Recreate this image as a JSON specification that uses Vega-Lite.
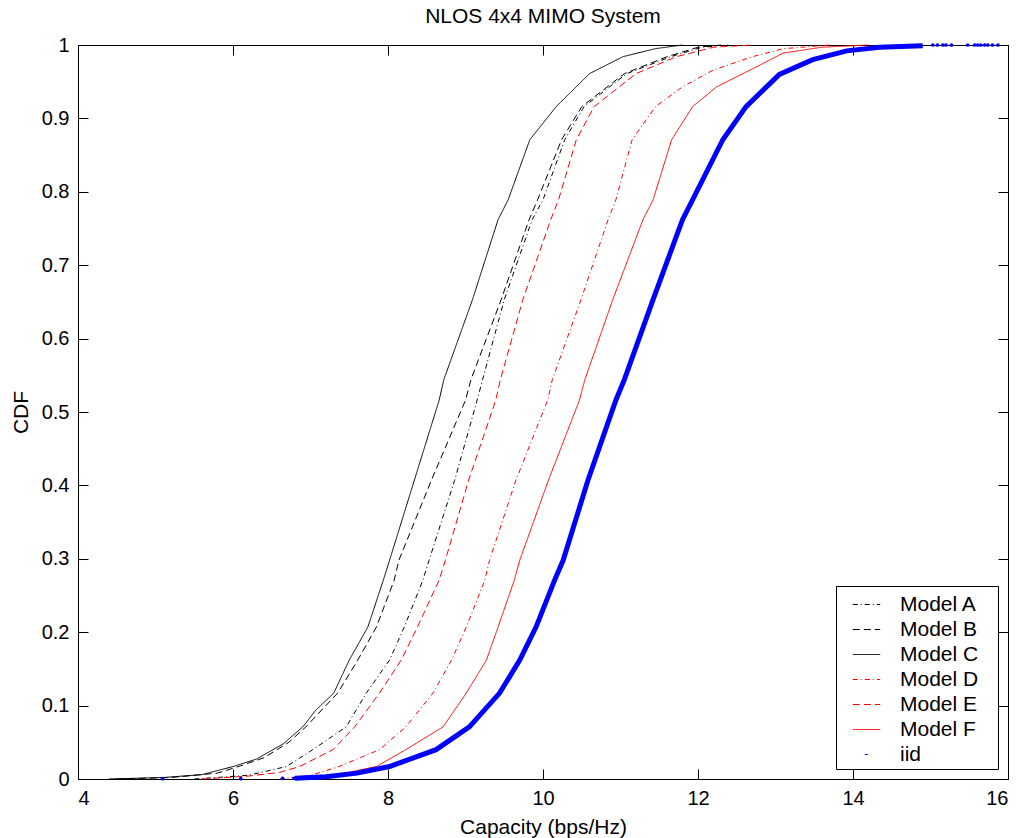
{
  "$schema": "https://vega.github.io/schema/vega-lite/v6.json",
  "width": 930,
  "height": 734,
  "autosize": "none",
  "padding": {"left": 78, "top": 45, "right": 16, "bottom": 59},
  "background": "white",
  "title": {"text": "NLOS 4x4 MIMO System", "fontSize": 21, "font": "Liberation Sans", "fontWeight": "normal", "color": "black", "anchor": "middle", "baseline": "alphabetic", "offset": 17, "dy": 26},
  "datasets": {
    "models": [
      {"model": "Model A", "capacity": 5.5, "cdf": 0},
      {"model": "Model A", "capacity": 6.2, "cdf": 0.005},
      {"model": "Model A", "capacity": 6.69, "cdf": 0.017},
      {"model": "Model A", "capacity": 7.03, "cdf": 0.04},
      {"model": "Model A", "capacity": 7.46, "cdf": 0.071},
      {"model": "Model A", "capacity": 7.72, "cdf": 0.117},
      {"model": "Model A", "capacity": 8.02, "cdf": 0.162},
      {"model": "Model A", "capacity": 8.21, "cdf": 0.207},
      {"model": "Model A", "capacity": 8.45, "cdf": 0.271},
      {"model": "Model A", "capacity": 8.53, "cdf": 0.298},
      {"model": "Model A", "capacity": 8.86, "cdf": 0.407},
      {"model": "Model A", "capacity": 9.15, "cdf": 0.516},
      {"model": "Model A", "capacity": 9.22, "cdf": 0.544},
      {"model": "Model A", "capacity": 9.5, "cdf": 0.653},
      {"model": "Model A", "capacity": 9.86, "cdf": 0.762},
      {"model": "Model A", "capacity": 10.0, "cdf": 0.789},
      {"model": "Model A", "capacity": 10.28, "cdf": 0.871},
      {"model": "Model A", "capacity": 10.53, "cdf": 0.916},
      {"model": "Model A", "capacity": 11.08, "cdf": 0.961},
      {"model": "Model A", "capacity": 11.65, "cdf": 0.984},
      {"model": "Model A", "capacity": 12.05, "cdf": 0.997},
      {"model": "Model A", "capacity": 12.4, "cdf": 1.0},

      {"model": "Model B", "capacity": 4.5, "cdf": 0},
      {"model": "Model B", "capacity": 5.2, "cdf": 0.002},
      {"model": "Model B", "capacity": 5.8, "cdf": 0.008},
      {"model": "Model B", "capacity": 6.1, "cdf": 0.018},
      {"model": "Model B", "capacity": 6.4, "cdf": 0.029},
      {"model": "Model B", "capacity": 6.72, "cdf": 0.05},
      {"model": "Model B", "capacity": 6.94, "cdf": 0.071},
      {"model": "Model B", "capacity": 7.35, "cdf": 0.117},
      {"model": "Model B", "capacity": 7.61, "cdf": 0.162},
      {"model": "Model B", "capacity": 7.85, "cdf": 0.207},
      {"model": "Model B", "capacity": 8.08, "cdf": 0.271},
      {"model": "Model B", "capacity": 8.14, "cdf": 0.298},
      {"model": "Model B", "capacity": 8.56, "cdf": 0.407},
      {"model": "Model B", "capacity": 9.0, "cdf": 0.516},
      {"model": "Model B", "capacity": 9.07, "cdf": 0.544},
      {"model": "Model B", "capacity": 9.46, "cdf": 0.653},
      {"model": "Model B", "capacity": 9.82, "cdf": 0.762},
      {"model": "Model B", "capacity": 9.93, "cdf": 0.789},
      {"model": "Model B", "capacity": 10.24, "cdf": 0.871},
      {"model": "Model B", "capacity": 10.5, "cdf": 0.916},
      {"model": "Model B", "capacity": 11.05, "cdf": 0.961},
      {"model": "Model B", "capacity": 11.6, "cdf": 0.984},
      {"model": "Model B", "capacity": 12.0, "cdf": 0.997},
      {"model": "Model B", "capacity": 12.3, "cdf": 1.0},

      {"model": "Model C", "capacity": 4.4, "cdf": 0},
      {"model": "Model C", "capacity": 5.1, "cdf": 0.002},
      {"model": "Model C", "capacity": 5.6, "cdf": 0.006},
      {"model": "Model C", "capacity": 6.0, "cdf": 0.017},
      {"model": "Model C", "capacity": 6.3, "cdf": 0.027},
      {"model": "Model C", "capacity": 6.65, "cdf": 0.048},
      {"model": "Model C", "capacity": 6.9, "cdf": 0.071},
      {"model": "Model C", "capacity": 7.07, "cdf": 0.094},
      {"model": "Model C", "capacity": 7.3, "cdf": 0.117},
      {"model": "Model C", "capacity": 7.5, "cdf": 0.162},
      {"model": "Model C", "capacity": 7.74, "cdf": 0.207},
      {"model": "Model C", "capacity": 7.94, "cdf": 0.271},
      {"model": "Model C", "capacity": 8.02, "cdf": 0.298},
      {"model": "Model C", "capacity": 8.34, "cdf": 0.407},
      {"model": "Model C", "capacity": 8.66, "cdf": 0.516},
      {"model": "Model C", "capacity": 8.72, "cdf": 0.544},
      {"model": "Model C", "capacity": 9.09, "cdf": 0.653},
      {"model": "Model C", "capacity": 9.42, "cdf": 0.762},
      {"model": "Model C", "capacity": 9.55, "cdf": 0.789},
      {"model": "Model C", "capacity": 9.83, "cdf": 0.871},
      {"model": "Model C", "capacity": 10.17, "cdf": 0.916},
      {"model": "Model C", "capacity": 10.6, "cdf": 0.961},
      {"model": "Model C", "capacity": 11.03, "cdf": 0.984},
      {"model": "Model C", "capacity": 11.45, "cdf": 0.995},
      {"model": "Model C", "capacity": 11.8, "cdf": 1.0},

      {"model": "Model D", "capacity": 6.6, "cdf": 0},
      {"model": "Model D", "capacity": 7.0, "cdf": 0.005},
      {"model": "Model D", "capacity": 7.37, "cdf": 0.017},
      {"model": "Model D", "capacity": 7.89, "cdf": 0.04},
      {"model": "Model D", "capacity": 8.23, "cdf": 0.071},
      {"model": "Model D", "capacity": 8.58, "cdf": 0.117},
      {"model": "Model D", "capacity": 8.82, "cdf": 0.162},
      {"model": "Model D", "capacity": 9.01, "cdf": 0.207},
      {"model": "Model D", "capacity": 9.25, "cdf": 0.271},
      {"model": "Model D", "capacity": 9.31, "cdf": 0.298},
      {"model": "Model D", "capacity": 9.65, "cdf": 0.407},
      {"model": "Model D", "capacity": 10.06, "cdf": 0.516},
      {"model": "Model D", "capacity": 10.12, "cdf": 0.544},
      {"model": "Model D", "capacity": 10.49, "cdf": 0.653},
      {"model": "Model D", "capacity": 10.84, "cdf": 0.762},
      {"model": "Model D", "capacity": 10.94, "cdf": 0.789},
      {"model": "Model D", "capacity": 11.15, "cdf": 0.871},
      {"model": "Model D", "capacity": 11.45, "cdf": 0.916},
      {"model": "Model D", "capacity": 11.8, "cdf": 0.943},
      {"model": "Model D", "capacity": 12.2, "cdf": 0.966},
      {"model": "Model D", "capacity": 12.7, "cdf": 0.984},
      {"model": "Model D", "capacity": 13.1, "cdf": 0.995},
      {"model": "Model D", "capacity": 13.7, "cdf": 1.0},

      {"model": "Model E", "capacity": 5.6, "cdf": 0},
      {"model": "Model E", "capacity": 6.2, "cdf": 0.004},
      {"model": "Model E", "capacity": 6.6, "cdf": 0.009},
      {"model": "Model E", "capacity": 6.86, "cdf": 0.017},
      {"model": "Model E", "capacity": 7.29, "cdf": 0.04},
      {"model": "Model E", "capacity": 7.57, "cdf": 0.071},
      {"model": "Model E", "capacity": 7.89, "cdf": 0.117},
      {"model": "Model E", "capacity": 8.17, "cdf": 0.162},
      {"model": "Model E", "capacity": 8.38, "cdf": 0.207},
      {"model": "Model E", "capacity": 8.66, "cdf": 0.271},
      {"model": "Model E", "capacity": 8.74, "cdf": 0.298},
      {"model": "Model E", "capacity": 9.04, "cdf": 0.407},
      {"model": "Model E", "capacity": 9.39, "cdf": 0.516},
      {"model": "Model E", "capacity": 9.45, "cdf": 0.544},
      {"model": "Model E", "capacity": 9.74, "cdf": 0.653},
      {"model": "Model E", "capacity": 10.1, "cdf": 0.762},
      {"model": "Model E", "capacity": 10.2, "cdf": 0.789},
      {"model": "Model E", "capacity": 10.43, "cdf": 0.871},
      {"model": "Model E", "capacity": 10.66, "cdf": 0.916},
      {"model": "Model E", "capacity": 11.2, "cdf": 0.961},
      {"model": "Model E", "capacity": 11.72, "cdf": 0.984},
      {"model": "Model E", "capacity": 12.2, "cdf": 0.997},
      {"model": "Model E", "capacity": 12.7, "cdf": 1.0},

      {"model": "Model F", "capacity": 6.8, "cdf": 0},
      {"model": "Model F", "capacity": 7.3, "cdf": 0.005},
      {"model": "Model F", "capacity": 7.85, "cdf": 0.017},
      {"model": "Model F", "capacity": 8.23, "cdf": 0.04},
      {"model": "Model F", "capacity": 8.71, "cdf": 0.071},
      {"model": "Model F", "capacity": 9.01, "cdf": 0.117},
      {"model": "Model F", "capacity": 9.27, "cdf": 0.162},
      {"model": "Model F", "capacity": 9.42, "cdf": 0.207},
      {"model": "Model F", "capacity": 9.63, "cdf": 0.271},
      {"model": "Model F", "capacity": 9.7, "cdf": 0.298},
      {"model": "Model F", "capacity": 10.07, "cdf": 0.407},
      {"model": "Model F", "capacity": 10.47, "cdf": 0.516},
      {"model": "Model F", "capacity": 10.54, "cdf": 0.544},
      {"model": "Model F", "capacity": 10.9, "cdf": 0.653},
      {"model": "Model F", "capacity": 11.29, "cdf": 0.762},
      {"model": "Model F", "capacity": 11.42, "cdf": 0.789},
      {"model": "Model F", "capacity": 11.66, "cdf": 0.871},
      {"model": "Model F", "capacity": 11.93, "cdf": 0.916},
      {"model": "Model F", "capacity": 12.24, "cdf": 0.943},
      {"model": "Model F", "capacity": 12.75, "cdf": 0.97},
      {"model": "Model F", "capacity": 13.1, "cdf": 0.989},
      {"model": "Model F", "capacity": 13.6, "cdf": 0.997},
      {"model": "Model F", "capacity": 14.2, "cdf": 1.0}
    ],
    "iid": [
      {"model": "iid", "capacity": 6.8, "cdf": 0.001},
      {"model": "iid", "capacity": 7.2, "cdf": 0.003},
      {"model": "iid", "capacity": 7.6, "cdf": 0.008},
      {"model": "iid", "capacity": 8.02, "cdf": 0.017},
      {"model": "iid", "capacity": 8.62, "cdf": 0.04},
      {"model": "iid", "capacity": 9.05, "cdf": 0.071},
      {"model": "iid", "capacity": 9.44, "cdf": 0.117},
      {"model": "iid", "capacity": 9.7, "cdf": 0.162},
      {"model": "iid", "capacity": 9.91, "cdf": 0.207},
      {"model": "iid", "capacity": 10.15, "cdf": 0.271},
      {"model": "iid", "capacity": 10.26, "cdf": 0.298},
      {"model": "iid", "capacity": 10.58, "cdf": 0.407},
      {"model": "iid", "capacity": 10.94, "cdf": 0.516},
      {"model": "iid", "capacity": 11.05, "cdf": 0.544},
      {"model": "iid", "capacity": 11.42, "cdf": 0.653},
      {"model": "iid", "capacity": 11.8, "cdf": 0.762},
      {"model": "iid", "capacity": 11.93, "cdf": 0.789},
      {"model": "iid", "capacity": 12.32, "cdf": 0.871},
      {"model": "iid", "capacity": 12.62, "cdf": 0.916},
      {"model": "iid", "capacity": 13.05, "cdf": 0.96},
      {"model": "iid", "capacity": 13.48, "cdf": 0.98},
      {"model": "iid", "capacity": 13.92, "cdf": 0.992},
      {"model": "iid", "capacity": 14.34, "cdf": 0.997},
      {"model": "iid", "capacity": 14.9, "cdf": 0.999}
    ],
    "iidpts": [
      {"model": "iid", "capacity": 5.09, "cdf": 0.0005},
      {"model": "iid", "capacity": 6.1, "cdf": 0.0005},
      {"model": "iid", "capacity": 6.64, "cdf": 0.001},
      {"model": "iid", "capacity": 6.79, "cdf": 0.001},
      {"model": "iid", "capacity": 15.03, "cdf": 1.0},
      {"model": "iid", "capacity": 15.09, "cdf": 1.0},
      {"model": "iid", "capacity": 15.16, "cdf": 1.0},
      {"model": "iid", "capacity": 15.2, "cdf": 1.0},
      {"model": "iid", "capacity": 15.27, "cdf": 1.0},
      {"model": "iid", "capacity": 15.48, "cdf": 1.0},
      {"model": "iid", "capacity": 15.57, "cdf": 1.0},
      {"model": "iid", "capacity": 15.61, "cdf": 1.0},
      {"model": "iid", "capacity": 15.65, "cdf": 1.0},
      {"model": "iid", "capacity": 15.7, "cdf": 1.0},
      {"model": "iid", "capacity": 15.74, "cdf": 1.0},
      {"model": "iid", "capacity": 15.8, "cdf": 1.0},
      {"model": "iid", "capacity": 15.87, "cdf": 1.0}
    ]
  },
  "config": {
    "view": {"stroke": "black", "strokeWidth": 1},
    "axis": {
      "domainColor": "black", "tickColor": "black", "labelColor": "black", "titleColor": "black",
      "labelFont": "Liberation Sans", "titleFont": "Liberation Sans",
      "labelFontSize": 20, "titleFontSize": 21, "titleFontWeight": "normal",
      "grid": false, "tickSize": -10, "domainWidth": 1, "tickWidth": 1
    },
    "legend": {
      "orient": "bottom-right", "offset": 10,
      "fillColor": "white", "strokeColor": "black", "padding": 4, "rowPadding": 0,
      "labelFont": "Liberation Sans", "labelFontSize": 21, "labelColor": "black",
      "symbolType": "stroke", "symbolSize": 750, "symbolStrokeWidth": 1, "labelOffset": 19, "symbolOffset": 12,
      "cornerRadius": 0
    }
  },
  "layer": [
    {
      "data": {"name": "models"},
      "mark": {"type": "line", "strokeWidth": 1},
      "encoding": {
        "x": {"field": "capacity", "type": "quantitative", "scale": {"domain": [4, 16], "nice": false, "zero": false},
              "axis": {"orient": "bottom", "values": [4, 6, 8, 10, 12, 14, 16], "format": "d", "labelPadding": 19,
                       "title": "Capacity (bps/Hz)", "titleY": 54, "titleBaseline": "alphabetic"}},
        "y": {"field": "cdf", "type": "quantitative", "scale": {"domain": [0, 1], "nice": false},
              "axis": {"orient": "left", "values": [0, 0.1, 0.2, 0.3, 0.4, 0.5, 0.6, 0.7, 0.8, 0.9, 1], "format": "~g", "labelPadding": 19,
                       "title": "CDF", "titleX": -51, "titleBaseline": "alphabetic"}},
        "color": {"field": "model", "type": "nominal",
                  "scale": {"domain": ["Model A", "Model B", "Model C", "Model D", "Model E", "Model F", "iid"],
                            "range": ["#000000", "#000000", "#000000", "#ff0000", "#ff0000", "#ff0000", "#0000ff"]},
                  "legend": {"title": null, "labelExpr": "datum.label + '\u2800'"}},
        "strokeDash": {"field": "model", "type": "nominal",
                  "scale": {"domain": ["Model A", "Model B", "Model C", "Model D", "Model E", "Model F", "iid"],
                            "range": [[5, 3, 1, 3], [7, 4], [1, 0], [5, 3, 1, 3], [7, 4], [1, 0], [0, 12, 3, 1000]]},
                  "legend": {"title": null, "labelExpr": "datum.label + '\u2800'"}}
      }
    },
    {
      "data": {"name": "iid"},
      "mark": {"type": "line", "strokeWidth": 5, "color": "#0000ff"},
      "encoding": {
        "x": {"field": "capacity", "type": "quantitative", "axis": {"orient": "top", "values": [4, 6, 8, 10, 12, 14, 16], "labels": false, "title": null}},
        "y": {"field": "cdf", "type": "quantitative", "axis": {"orient": "right", "values": [0, 0.1, 0.2, 0.3, 0.4, 0.5, 0.6, 0.7, 0.8, 0.9, 1], "labels": false, "title": null}}
      }
    },
    {
      "data": {"name": "iidpts"},
      "mark": {"type": "point", "filled": true, "size": 14, "color": "#0000ff", "opacity": 1},
      "encoding": {
        "x": {"field": "capacity", "type": "quantitative", "axis": null},
        "y": {"field": "cdf", "type": "quantitative", "axis": null}
      }
    }
  ],
  "resolve": {"axis": {"x": "independent", "y": "independent"}}
}
